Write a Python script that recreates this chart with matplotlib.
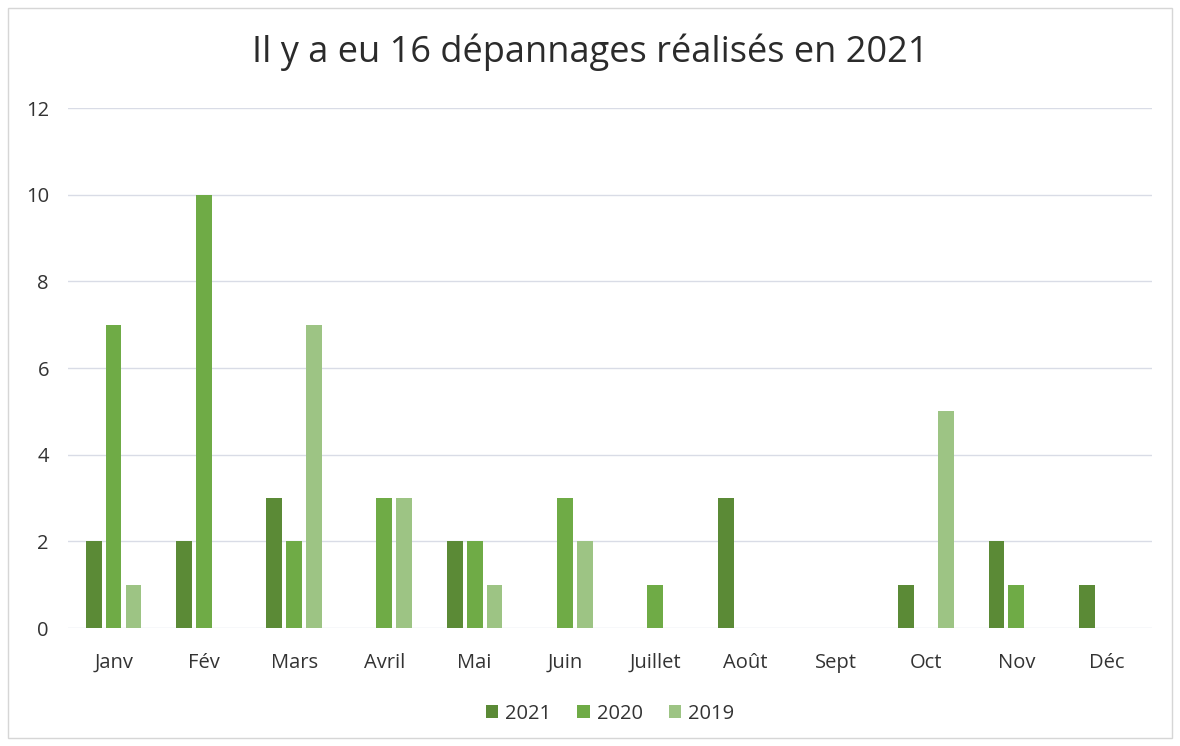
import numpy as np
import matplotlib
matplotlib.use("Agg")
import matplotlib.pyplot as plt
from matplotlib.patches import Rectangle

plt.rcParams['font.family'] = ['Open Sans', 'DejaVu Sans']

# data
months = ["Janv", "Fév", "Mars", "Avril", "Mai", "Juin",
          "Juillet", "Août", "Sept", "Oct", "Nov", "Déc"]
y2021 = [2, 2, 3, 0, 2, 0, 0, 3, 0, 1, 2, 1]
y2020 = [7, 10, 2, 3, 2, 3, 1, 0, 0, 0, 1, 0]
y2019 = [1, 0, 7, 3, 1, 2, 0, 0, 0, 5, 0, 0]
series = [("2021", y2021, '#5b8a36'),
          ("2020", y2020, '#6fab46'),
          ("2019", y2019, '#9dc484')]

fig = plt.figure(figsize=(11.8, 7.46), dpi=100)
ax = fig.add_axes([0.058, 0.158, 0.918, 0.697])

x = np.arange(len(months))
width = 0.175
step = 0.22
for i, (label, vals, color) in enumerate(series):
    ax.bar(x + (i - 1) * step, vals, width, color=color, label=label, zorder=3)

ax.set_xlim(-0.5, len(months) - 0.5)
ax.set_ylim(0, 12)
ax.set_yticks(range(0, 13, 2))
ax.set_xticks(x)
ax.set_xticklabels(months)
ax.grid(True, axis='y', color='#d9dce6', linewidth=1.0, zorder=0)
for s in ax.spines.values():
    s.set_visible(False)
ax.tick_params(axis='both', length=0, labelsize=14.5, colors='#333333')
ax.tick_params(axis='x', pad=18)
ax.tick_params(axis='y', pad=14)

fig.suptitle("Il y a eu 16 dépannages réalisés en 2021", fontsize=26,
             color='#2b2b2b', x=0.5, y=0.955)

ax.legend(loc='center', bbox_to_anchor=(0.5, -0.165), ncol=3, frameon=False,
          fontsize=14.5, handlelength=0.6, handleheight=0.6, columnspacing=1.3,
          handletextpad=0.35, labelcolor='#333333')

# light frame round the chart
fig.patches.append(Rectangle((0.007, 0.011), 0.986, 0.978, transform=fig.transFigure,
                             fill=False, edgecolor='#d6d6d6', linewidth=1.0))

fig.savefig("out.png", dpi=100, facecolor='white')
